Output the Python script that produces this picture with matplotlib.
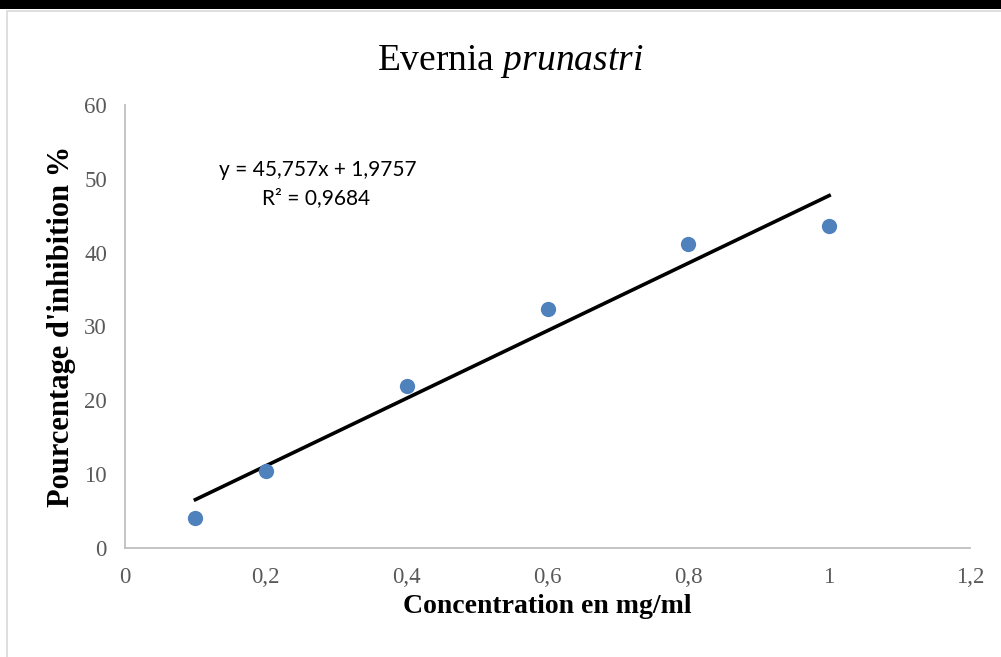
import matplotlib.pyplot as plt
from matplotlib import rcParams
from matplotlib.patches import Rectangle
import numpy as np

rcParams["font.family"] = ["Liberation Serif", "DejaVu Serif"]
rcParams["mathtext.fontset"] = "custom"
rcParams["mathtext.rm"] = "Liberation Serif"
rcParams["mathtext.it"] = "Liberation Serif:italic"

# données
concentration = [0.1, 0.2, 0.4, 0.6, 0.8, 1.0]
inhibition = [4.1, 10.4, 21.9, 32.4, 41.2, 43.6]
slope = 45.757
intercept = 1.9757
r2 = 0.9684

x_ticks = [0, 0.2, 0.4, 0.6, 0.8, 1.0, 1.2]
x_labels = ["0", "0,2", "0,4", "0,6", "0,8", "1", "1,2"]
y_ticks = [0, 10, 20, 30, 40, 50, 60]

fig = plt.figure(figsize=(10.01, 6.57), dpi=100)

# cadre: barre noire en haut et bordure grise
fig.patches.append(Rectangle((0, 1 - 9 / 657), 1, 9 / 657, transform=fig.transFigure,
                             facecolor="black", edgecolor="none"))
fig.patches.append(Rectangle((7 / 1001, -0.05), 1.1, 1 - 11 / 657 + 0.05, transform=fig.transFigure,
                             facecolor="none", edgecolor="#d9d9d9", linewidth=1.2))

ax = fig.add_axes([125 / 1001, 1 - 548 / 657, (970 - 125) / 1001, (548 - 105) / 657])

x_fit = np.array([min(concentration), max(concentration)])
ax.plot(x_fit, slope * x_fit + intercept, color="black", linewidth=2.6, zorder=2)
ax.plot(concentration, inhibition, "o", color="#4f81bd", markersize=11,
        markeredgewidth=0, zorder=3)

ax.set_xlim(0, 1.2)
ax.set_ylim(0, 60)
ax.set_xticks(x_ticks)
ax.set_xticklabels(x_labels)
ax.set_yticks(y_ticks)
ax.tick_params(length=0, labelsize=16.5, labelcolor="#595959")
ax.tick_params(axis="x", pad=14)
ax.tick_params(axis="y", pad=13)

for side in ["top", "right"]:
    ax.spines[side].set_visible(False)
for side in ["left", "bottom"]:
    ax.spines[side].set_color("#bfbfbf")
    ax.spines[side].set_linewidth(1.3)

ax.set_xlabel("Concentration en mg/ml", fontsize=20, fontweight="bold", labelpad=4)
ax.set_ylabel("Pourcentage d'inhibition %", fontsize=22, fontweight="bold", labelpad=6)

fig.text(510 / 1001, 1 - 61 / 657, r"Evernia $\it{prunastri}$", fontsize=27,
         ha="center", va="center")

eq = f"y = {slope:.3f}x + {intercept:.4f}".replace(".", ",")
r2_text = f"R² = {r2:.4f}".replace(".", ",")
fig.text(318 / 1001, 1 - 170 / 657, eq, fontsize=15, ha="center", va="center",
         family=["Lato", "DejaVu Sans"])
fig.text(316 / 1001, 1 - 198 / 657, r2_text, fontsize=15, ha="center", va="center",
         family=["Lato", "DejaVu Sans"])

plt.savefig("out.png", dpi=100)
plt.close()
